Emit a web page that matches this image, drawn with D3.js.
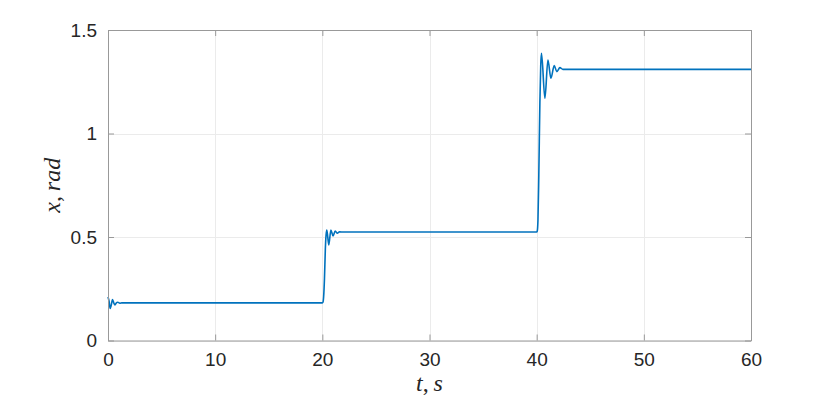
<!DOCTYPE html>
<html>
<head>
<meta charset="utf-8">
<script src="https://cdn.jsdelivr.net/npm/d3@7"></script>
<style>
  html, body { margin: 0; padding: 0; background: #fff; }
  svg { display: block; }
</style>
</head>
<body>
<div id="chart"></div>
<script>
// ---- data ----
const timeValues = [0, 0.1, 0.2, 0.3, 0.42, 0.55, 0.65, 0.8, 0.9, 1.1, 1.3,
  20.0, 20.06, 20.12, 20.2, 20.28, 20.35, 20.42, 20.6, 20.8, 21.0, 21.2, 21.4, 21.6, 22,
  40.0, 40.05, 40.12, 40.2, 40.3, 40.38, 40.45, 40.77, 41.05, 41.33, 41.64, 41.88, 42.17, 42.45, 60];
const angleValues = [0.21, 0.19, 0.155, 0.17, 0.198, 0.18, 0.172, 0.183, 0.185, 0.18, 0.182,
  0.182, 0.185, 0.21, 0.30, 0.44, 0.51, 0.534, 0.462, 0.534, 0.505, 0.529, 0.518, 0.525, 0.524,
  0.524, 0.528, 0.58, 0.80, 1.15, 1.33, 1.387, 1.17, 1.355, 1.267, 1.328, 1.299, 1.318, 1.31, 1.31];
const xTicks = [0, 10, 20, 30, 40, 50, 60];
const yTicks = [0, 0.5, 1, 1.5];
const xDomain = [0, 60];
const yDomain = [0, 1.5];

// ---- layout ----
const W = 830, H = 401;
const margin = { left: 108, right: 79, top: 30, bottom: 60.5 };
const iw = W - margin.left - margin.right;
const ih = H - margin.top - margin.bottom;

const svg = d3.select("#chart").append("svg").attr("width", W).attr("height", H);
const g = svg.append("g").attr("transform", `translate(${margin.left},${margin.top})`);

const x = d3.scaleLinear().domain(xDomain).range([0, iw]);
const y = d3.scaleLinear().domain(yDomain).range([ih, 0]);

// grid
g.append("g").selectAll("line").data(xTicks).join("line")
  .attr("x1", d => Math.round(x(d)) + 0.5).attr("x2", d => Math.round(x(d)) + 0.5)
  .attr("y1", 0).attr("y2", ih).attr("stroke", "#ebebeb").attr("stroke-width", 1);
g.append("g").selectAll("line").data(yTicks).join("line")
  .attr("y1", d => Math.round(y(d)) + 0.5).attr("y2", d => Math.round(y(d)) + 0.5)
  .attr("x1", 0).attr("x2", iw).attr("stroke", "#ebebeb").attr("stroke-width", 1);

// line
const data = timeValues.map((t, i) => ({ t, v: angleValues[i] }));
g.append("path").datum(data)
  .attr("fill", "none").attr("stroke", "#0072BD").attr("stroke-width", 1.6)
  .attr("stroke-linejoin", "round")
  .attr("d", d3.line().x(d => x(d.t)).y(d => y(d.v)).curve(d3.curveMonotoneX));

// axes (ticks inside)
const axisColor = "#999";
const fontTick = "Liberation Sans, Arial, sans-serif";
const xAxis = g.append("g").attr("transform", `translate(0,${ih})`)
  .call(d3.axisBottom(x).tickValues(xTicks).tickSizeInner(-6).tickSizeOuter(0).tickPadding(12).tickFormat(d3.format("d")));
const yAxis = g.append("g")
  .call(d3.axisLeft(y).tickValues(yTicks).tickSizeInner(-6).tickSizeOuter(0).tickPadding(11).tickFormat(d => String(d)));
const xTop = g.append("g")
  .call(d3.axisTop(x).tickValues(xTicks).tickSizeInner(-6).tickSizeOuter(0).tickFormat(""));
const yRight = g.append("g").attr("transform", `translate(${iw},0)`)
  .call(d3.axisRight(y).tickValues(yTicks).tickSizeInner(-6).tickSizeOuter(0).tickFormat(""));
[xAxis, yAxis, xTop, yRight].forEach(a => {
  a.selectAll("path").attr("stroke", axisColor);
  a.selectAll("line").attr("stroke", axisColor);
  a.selectAll("text").attr("fill", "#262626").style("font-family", fontTick).style("font-size", "19px");
});

// labels
svg.append("text").attr("x", margin.left + iw / 2).attr("y", 391)
  .attr("text-anchor", "middle").attr("fill", "#262626")
  .style("font-family", "Liberation Serif, DejaVu Serif, serif").style("font-size", "24px")
  .html('<tspan font-style="italic">t</tspan>,&#8201;<tspan font-style="italic">s</tspan>');
svg.append("text").attr("transform", `translate(60,${margin.top + ih / 2}) rotate(-90)`)
  .attr("text-anchor", "middle").attr("fill", "#262626")
  .style("font-family", "Liberation Serif, DejaVu Serif, serif").style("font-size", "24px")
  .html('<tspan font-style="italic">x</tspan>,&#8201;<tspan font-style="italic">rad</tspan>');
</script>
</body>
</html>
